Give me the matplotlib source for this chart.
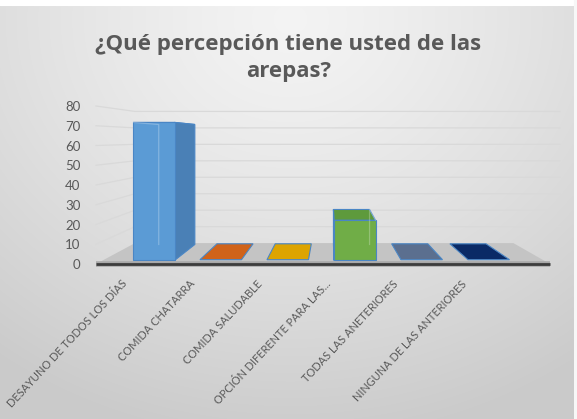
import numpy as np
import matplotlib.pyplot as plt

# Survey answers: perception of arepas
categories = ['DESAYUNO DE TODOS LOS DÍAS', 'COMIDA CHATARRA', 'COMIDA SALUDABLE',
              'OPCIÓN DIFERENTE PARA LAS...', 'TODAS LAS ANETERIORES',
              'NINGUNA DE LAS ANTERIORES']
values = [72, 0, 0, 21, 0, 0]
yticks = [0, 10, 20, 30, 40, 50, 60, 70, 80]
title = '¿Qué percepción tiene usted de las\narepas?'

front_colors = ['#5B9BD5', '#D0631A', '#DDA400', '#70AD47', '#5B6F8F', '#0A2A66']
side_colors = ['#4A80B6', '#A94F14', '#B88800', '#5A9239', '#4A5C78', '#061D4A']
top_colors = ['#6FA9DE', '#D0631A', '#DDA400', '#5E9A3C', '#5B6F8F', '#0A2A66']

text_color = '#595959'
plt.rcParams['font.family'] = ['Lato', 'DejaVu Sans']

# simple perspective: d is depth, s = 1/(1+d)
XC, VC, T = 2.63, 50.0, 11.25
D_BAR0, D_BAR1, D_WALL = 0.03, 0.185, 0.2


def proj(x, v, d):
    s = 1.0 / (1.0 + d)
    return XC + (x - XC) * s, VC + (v - VC) * s + T * d


def poly(pts):
    xy = [proj(*p) for p in pts]
    return [p[0] for p in xy], [p[1] for p in xy]


fig = plt.figure(figsize=(5.77, 4.19), dpi=100)

# background gradient
bg = fig.add_axes([0, 0, 1, 1], zorder=-5)
yy, xx = np.mgrid[0:419, 0:577]
r = np.sqrt(((xx - 290) / 1.15) ** 2 + (yy - 20) ** 2) / 420
shade = 0.955 - 0.16 * np.clip(r, 0, 1) ** 1.3
shade[:7, :] = 1.0
shade[:, -3:] = 0.97
bg.imshow(np.dstack([shade] * 3), aspect='auto', interpolation='bilinear')
bg.axis('off')

ax = fig.add_axes([86 / 577, (419 - 279.8) / 419, (562.5 - 86) / 577, 181.7 / 419])
ax.set_xlim(-0.905, 6.0)
ax.set_ylim(-8, 84)
ax.patch.set_alpha(0)
for sp in ax.spines.values():
    sp.set_visible(False)

x_left, x_right, x_wall = -0.76, 5.82, 6.63

# gridlines on side wall and back wall
for g in yticks[1:]:
    xs, ys = poly([(x_left, g, 0), (x_left, g, D_WALL), (x_wall, g, D_WALL)])
    ax.plot(xs, ys, color='#d9d9d9', lw=0.9, zorder=1)

# floor
xs, ys = poly([(x_left, 0, 0), (x_right, 0, 0), (x_right, 0, D_WALL), (x_left, 0, D_WALL)])
ax.fill(xs, ys, color='#c4c4c4', zorder=2, lw=0)
xs, ys = poly([(x_left, 0, 0), (x_right, 0, 0)])
ax.plot(xs, ys, color='#a8a8a8', lw=4, zorder=2, solid_capstyle='butt')
ax.plot(xs, ys, color='#3c3c3c', lw=2, zorder=3, solid_capstyle='butt')

# 3d columns
w = 0.62
for i, h in enumerate(values):
    x0, x1 = i - w / 2, i + w / 2
    hv = max(h, 0.4)
    xs, ys = poly([(x0, hv, D_BAR0), (x1, hv, D_BAR0), (x1, hv, D_BAR1), (x0, hv, D_BAR1)])
    ax.fill(xs, ys, facecolor=top_colors[i], edgecolor='#4a86c5', lw=0.8, zorder=4)
    if h <= 0:
        continue
    xs_side = x1 if i < XC else x0
    xs, ys = poly([(xs_side, 0, D_BAR0), (xs_side, 0, D_BAR1), (xs_side, h, D_BAR1), (xs_side, h, D_BAR0)])
    ax.fill(xs, ys, facecolor=side_colors[i], edgecolor='#4a86c5', lw=0.8, zorder=5)
    xs, ys = poly([(x0, 0, D_BAR0), (x1, 0, D_BAR0), (x1, h, D_BAR0), (x0, h, D_BAR0)])
    ax.fill(xs, ys, facecolor=front_colors[i], edgecolor='#4a86c5', lw=0.8, zorder=6)
    # see-through back edges
    back_x = x0 if i < XC else x1
    xs, ys = poly([(back_x, h, D_BAR0), (back_x, h, D_BAR1), (back_x, 0, D_BAR1)])
    ax.plot(xs, ys, color='white', alpha=0.25, lw=0.9, zorder=7)

# value axis labels
ax.set_yticks(yticks)
ax.set_yticklabels([str(t) for t in yticks])
ax.tick_params(axis='y', length=0, pad=4, labelsize=9.5, labelcolor=text_color)

# category labels, rotated, their right end just under each column
ax.set_xticks([])
for i, cat in enumerate(categories):
    lx, _ = proj(i, 0, 0.017)
    ax.annotate(cat, xy=(lx, 0), xycoords=('data', 'axes fraction'),
                xytext=(-19, -1.5), textcoords='offset points',
                rotation=47, rotation_mode='anchor', ha='right', va='center',
                fontsize=7.9, color=text_color, annotation_clip=False)

fig.text(0.5, 1 - 58 / 419, title, ha='center', va='center', fontsize=16,
         fontweight='bold', color=text_color, linespacing=1.4,
         family=['Open Sans', 'DejaVu Sans'])

fig.savefig('out.png', dpi=100)
